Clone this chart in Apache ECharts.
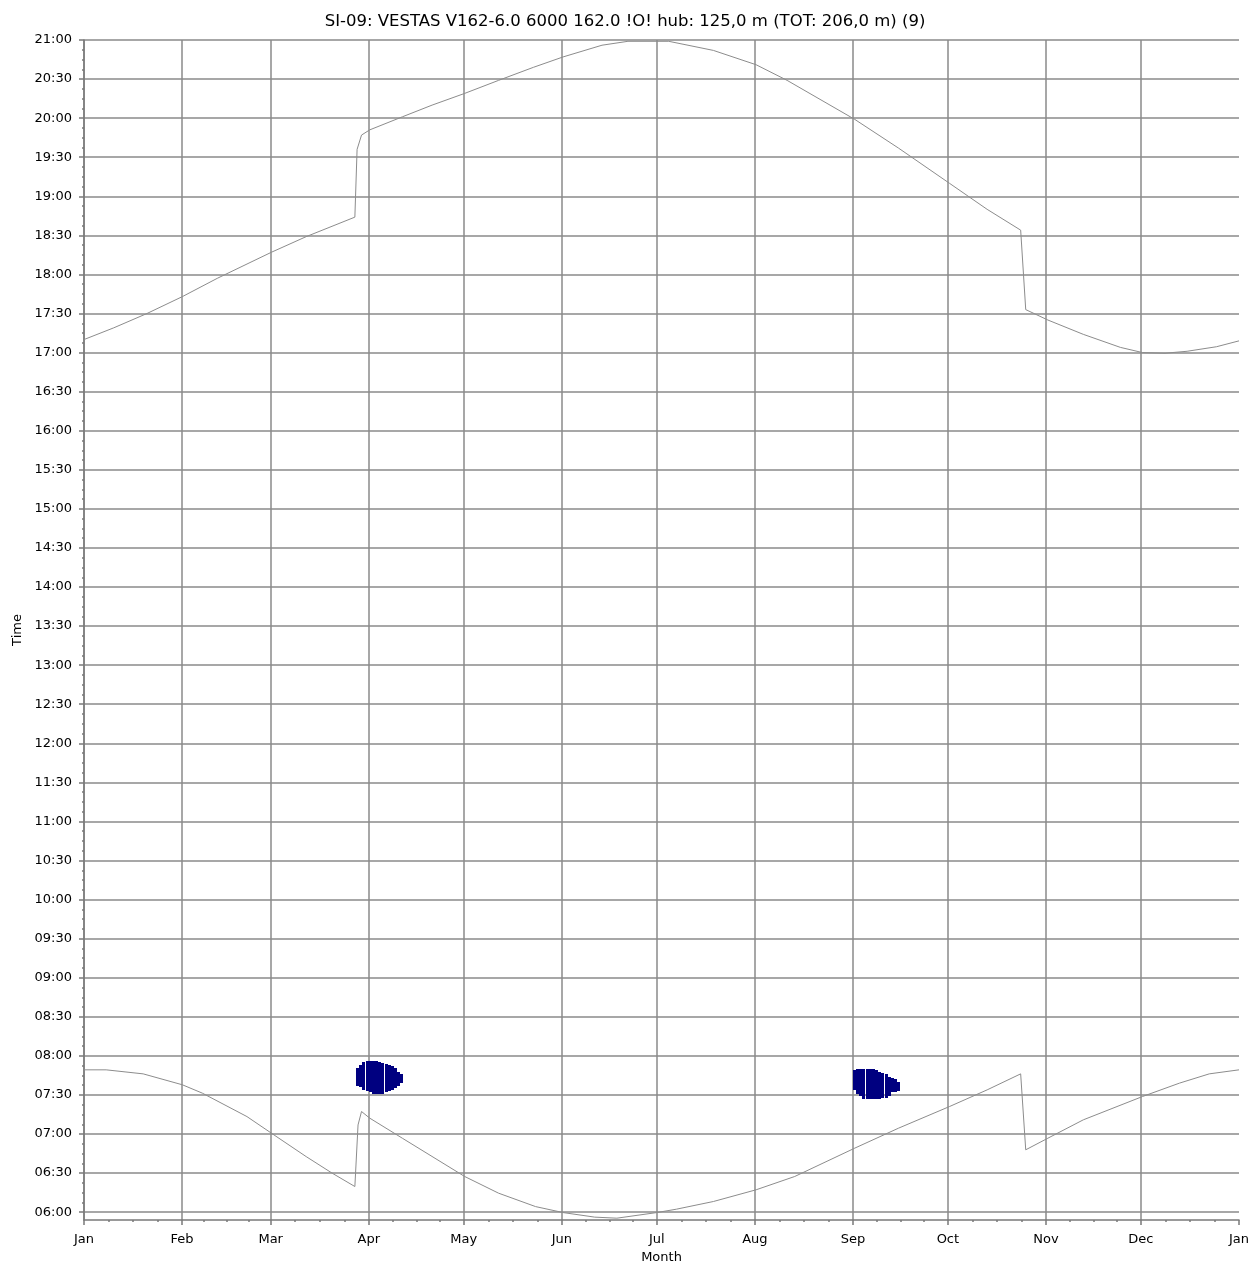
<!DOCTYPE html>
<html>
<head>
<meta charset="utf-8">
<title>SI-09 shadow calendar</title>
<script src="https://cdn.jsdelivr.net/npm/echarts@6/dist/echarts.min.js"></script>
<style>
  html, body { margin: 0; padding: 0; background: #ffffff; }
  #chart { width: 1250px; height: 1265px; }
</style>
</head>
<body>
<div id="chart"></div>
<script>
// ---- chart data -------------------------------------------------------
const titleText = 'SI-09: VESTAS V162-6.0 6000 162.0 !O! hub: 125,0 m (TOT: 206,0 m) (9)';

// month tick labels and the day of year each month starts on
const monthLabels = ['Jan', 'Feb', 'Mar', 'Apr', 'May', 'Jun', 'Jul', 'Aug', 'Sep', 'Oct', 'Nov', 'Dec', 'Jan'];
const monthStartDays = [0, 31, 59, 90, 120, 151, 181, 212, 243, 273, 304, 334, 365];

// time-of-day tick labels
const timeTickLabels = ['06:00', '06:30', '07:00', '07:30', '08:00', '08:30', '09:00', '09:30', '10:00', '10:30',
  '11:00', '11:30', '12:00', '12:30', '13:00', '13:30', '14:00', '14:30', '15:00', '15:30',
  '16:00', '16:30', '17:00', '17:30', '18:00', '18:30', '19:00', '19:30', '20:00', '20:30', '21:00'];

// sunset (upper curve): day of year, minutes after midnight
const sunsetDays = [0, 9.4, 19.9, 31.1, 42.1, 59.2, 70.2, 85.6, 86.3, 87.7, 90.3, 100.6, 110, 120.3, 131, 142, 151.4,
  163.7, 171.9, 184.8, 198.9, 212.4, 222.2, 243.6, 257.4, 273.5, 285.4, 296, 297.6, 304.6, 315.8,
  327.5, 334.5, 341.6, 348.6, 357.9, 365];
const sunsetTimes = [1030, 1039, 1050, 1063, 1077, 1097, 1109, 1124, 1176, 1187, 1191, 1201, 1210, 1219, 1229, 1239, 1247,
  1256, 1259, 1259, 1252, 1241, 1229, 1199, 1177, 1150, 1130, 1114, 1053, 1045, 1034,
  1024, 1020, 1019.5, 1021, 1024.5, 1029];

// sunrise (lower curve): day of year, minutes after midnight
const sunriseDays = [0, 7, 18.7, 31.1, 37.4, 51.5, 59.2, 70.2, 78.4, 85.6, 86.6, 87.7, 90.3, 100.6, 120.3,
  131, 142.7, 151.4, 161.4, 168.4, 175.4, 181, 187.2, 198.9, 212.4, 224.6, 243.6, 257.4, 273.5,
  285.4, 296, 297.6, 304.6, 315.8, 334.5, 346.2, 355.6, 365];
const sunriseTimes = [469.3, 469.3, 466.2, 457.8, 451.4, 433.4, 420.7, 402.7, 390, 379.7, 427, 437.3, 432.2, 416.8, 387.4,
  374.6, 364.3, 359.7, 356.2, 355.4, 357.8, 359.7, 362.3, 368.2, 377.2, 387.4, 409.2, 424.5, 441.1,
  453.9, 466.2, 407.9, 416.8, 430.9, 448.8, 459.1, 466.2, 469.3];

// shadow flicker periods: day of year, start and end (minutes after midnight)
const springFlickerDays  = [86, 87, 88, 89, 90, 91, 92, 93, 94, 95, 96, 97, 98, 99, 100];
const springFlickerStart = [457, 456, 454, 453, 452, 451, 451, 451, 451, 452, 453, 454, 455, 457, 459];
const springFlickerEnd   = [471, 473, 475, 476, 476, 476, 476, 475, 474.5, 474, 473, 472, 471, 468, 466];

const autumnFlickerDays  = [243, 244, 245, 246, 247, 248, 249, 250, 251, 252, 253, 254, 255, 256, 257];
const autumnFlickerStart = [454, 451, 449, 447, 447, 447, 447, 447, 447, 448, 448, 449, 452, 452, 453];
const autumnFlickerEnd   = [469, 470, 470, 470, 470, 470, 470, 469, 468, 467, 466, 464, 463, 462, 460];

// ---- helpers ---------------------------------------------------------
const toMinutes = s => { const [h, m] = s.split(':').map(Number); return h * 60 + m; };
const fmtTime = v => {
  const h = Math.floor(v / 60), m = Math.round(v - h * 60);
  return String(h).padStart(2, '0') + ':' + String(m).padStart(2, '0');
};
const zipPairs = (xs, ys) => xs.map((x, i) => [x, ys[i]]);
const zipTriples = (xs, a, b) => xs.map((x, i) => [x, a[i], b[i]]);

const timeTicks = timeTickLabels.map(toMinutes);
const Y_MIN = 354, Y_MAX = 1260;

// quarter-month minor ticks on the month axis
const monthMinorTicks = [];
for (let i = 0; i < monthStartDays.length - 1; i++) {
  const a = monthStartDays[i], len = monthStartDays[i + 1] - a;
  for (let k = 1; k < 4; k++) monthMinorTicks.push(a + len * k / 4);
}
// 7.5-minute minor ticks on the time axis
const timeMinorTicks = [];
for (let i = 0; i < timeTicks.length - 1; i++) {
  for (let k = 1; k < 4; k++) timeMinorTicks.push(timeTicks[i] + (timeTicks[i + 1] - timeTicks[i]) * k / 4);
}

const FONT = 'DejaVu Sans, Verdana, sans-serif';
const GRID_COLOR = '#8a8a8a';
const AXIS_COLOR = '#7a7a7a';
const CURVE_COLOR = '#8c8c8c';

// one bar per day of flicker, snapped to whole pixels
function renderFlicker(params, api) {
  const day = api.value(0), start = api.value(1), end = api.value(2);
  const p0 = api.coord([day, end]);
  const p1 = api.coord([day + 1, start]);
  const x = Math.round(p0[0]);
  const w = Math.max(1, Math.floor(p1[0] - p0[0]));
  const y = Math.round(p0[1]);
  const h = Math.round(p1[1]) - y;
  return {
    type: 'rect',
    shape: { x: x, y: y, width: w, height: h },
    style: { fill: '#000080' }
  };
}

const chart = echarts.init(document.getElementById('chart'), null, { renderer: 'canvas' });

chart.setOption({
  animation: false,
  backgroundColor: '#ffffff',
  textStyle: { fontFamily: FONT },
  title: {
    text: titleText,
    left: 'center',
    top: 8,
    textStyle: { fontSize: 16.5, fontWeight: 'normal', color: '#000', fontFamily: FONT }
  },
  grid: { left: 84, right: 11, top: 40, bottom: 45, containLabel: false, outerBoundsMode: 'none' },
  xAxis: [
    {
      type: 'value',
      min: 0,
      max: 365,
      name: 'Month',
      nameLocation: 'middle',
      nameGap: 31,
      nameTextStyle: { fontSize: 13, color: '#000', fontFamily: FONT },
      axisLine: { show: true, lineStyle: { color: AXIS_COLOR, width: 1.5 } },
      axisTick: { show: true, customValues: monthStartDays, length: 5, lineStyle: { color: AXIS_COLOR, width: 1.5 } },
      axisLabel: {
        customValues: monthStartDays,
        margin: 13,
        fontSize: 13,
        color: '#000',
        fontFamily: FONT,
        hideOverlap: false,
        formatter: v => monthLabels[monthStartDays.indexOf(Math.round(v))] || ''
      },
      splitLine: { show: true, showMinLine: true, showMaxLine: false, lineStyle: { color: GRID_COLOR, width: 1.5 } }
    },
    {
      type: 'value',
      min: 0,
      max: 365,
      position: 'bottom',
      axisLine: { show: false },
      axisTick: { show: true, customValues: monthMinorTicks, length: 2, lineStyle: { color: AXIS_COLOR, width: 1.5 } },
      axisLabel: { show: false },
      splitLine: { show: false }
    }
  ],
  yAxis: [
    {
      type: 'value',
      min: Y_MIN,
      max: Y_MAX,
      name: 'Time',
      nameLocation: 'middle',
      nameGap: 58,
      nameTextStyle: { fontSize: 13, color: '#000', fontFamily: FONT },
      axisLine: { show: true, lineStyle: { color: AXIS_COLOR, width: 1.5 } },
      axisTick: { show: true, customValues: timeTicks, length: 5, lineStyle: { color: AXIS_COLOR, width: 1.5 } },
      axisLabel: {
        customValues: timeTicks,
        margin: 12,
        fontSize: 13,
        color: '#000',
        fontFamily: FONT,
        formatter: v => fmtTime(v)
      },
      splitLine: { show: true, lineStyle: { color: GRID_COLOR, width: 1.5 } }
    },
    {
      type: 'value',
      min: Y_MIN,
      max: Y_MAX,
      position: 'left',
      axisLine: { show: false },
      axisTick: { show: true, customValues: timeMinorTicks, length: 2, lineStyle: { color: AXIS_COLOR, width: 1.5 } },
      axisLabel: { show: false },
      splitLine: { show: false }
    }
  ],
  series: [
    {
      name: 'Sunset',
      type: 'line',
      xAxisIndex: 0,
      yAxisIndex: 0,
      data: zipPairs(sunsetDays, sunsetTimes),
      showSymbol: false,
      lineStyle: { color: CURVE_COLOR, width: 1 },
      z: 3
    },
    {
      name: 'Sunrise',
      type: 'line',
      xAxisIndex: 0,
      yAxisIndex: 0,
      data: zipPairs(sunriseDays, sunriseTimes),
      showSymbol: false,
      lineStyle: { color: CURVE_COLOR, width: 1 },
      z: 3
    },
    {
      name: 'Flicker spring',
      type: 'custom',
      xAxisIndex: 0,
      yAxisIndex: 0,
      renderItem: renderFlicker,
      encode: { x: 0, y: [1, 2] },
      data: zipTriples(springFlickerDays, springFlickerStart, springFlickerEnd),
      z: 4
    },
    {
      name: 'Flicker autumn',
      type: 'custom',
      xAxisIndex: 0,
      yAxisIndex: 0,
      renderItem: renderFlicker,
      encode: { x: 0, y: [1, 2] },
      data: zipTriples(autumnFlickerDays, autumnFlickerStart, autumnFlickerEnd),
      z: 4
    }
  ]
});
</script>
</body>
</html>
